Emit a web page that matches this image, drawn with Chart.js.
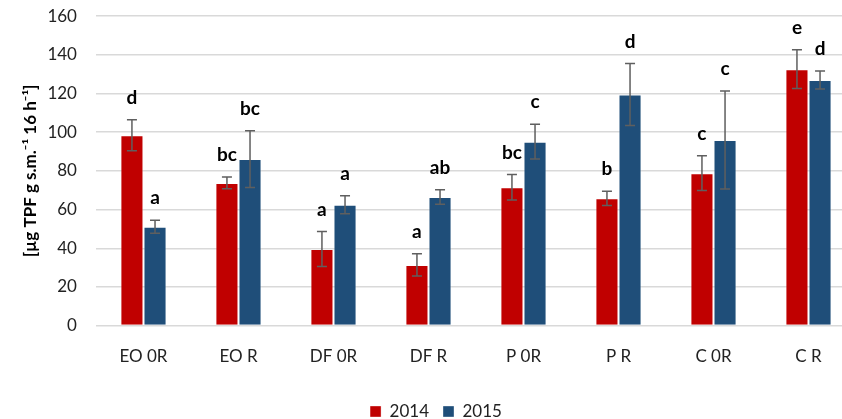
<!DOCTYPE html>
<html>
<head>
<meta charset="utf-8">
<script src="https://cdn.jsdelivr.net/npm/chart.js@4"></script>
<style>
  html, body { margin: 0; padding: 0; background: #fff; overflow: hidden; width: 842px; height: 419px; }
  #wrap { position: absolute; left: 0; top: -13px; width: 856px; height: 443px; }
</style>
</head>
<body>
<div id="wrap"><canvas id="c"></canvas></div>
<script>
// Dehydrogenase activity per treatment, two seasons
const categories = ['EO 0R', 'EO R', 'DF 0R', 'DF R', 'P 0R', 'P R', 'C 0R', 'C R'];
const values2014 = [98.4, 73.8, 39.6, 31.4, 71.6, 65.8, 78.8, 132.6];
const values2015 = [51.1, 86.1, 62.5, 66.5, 95.1, 119.5, 96.0, 127.0];
const errors2014 = [8.0, 3.0, 9.0, 5.7, 6.6, 3.7, 9.0, 10.0];
const errors2015 = [3.4, 14.7, 4.6, 3.7, 9.0, 16.0, 25.3, 4.6];
const letters2014 = ['d', 'bc', 'a', 'a', 'bc', 'b', 'c', 'e'];
const letters2015 = ['a', 'bc', 'a', 'ab', 'c', 'd', 'c', 'd'];
const yTicks = [0, 20, 40, 60, 80, 100, 120, 140, 160];

const errs = [errors2014, errors2015];
const letters = [letters2014, letters2015];

// Error bars with caps plus significance letters above each bar
const errorAndLetters = {
  id: 'errorAndLetters',
  afterDatasetsDraw(chart) {
    const ctx = chart.ctx;
    const y = chart.scales.y;
    chart.data.datasets.forEach((ds, di) => {
      const meta = chart.getDatasetMeta(di);
      meta.data.forEach((bar, i) => {
        const v = ds.data[i];
        const e = errs[di][i];
        const yTop = y.getPixelForValue(v + e);
        const yBot = y.getPixelForValue(v - e);
        const x = bar.x;
        ctx.save();
        ctx.strokeStyle = '#5f5f5f';
        ctx.lineWidth = 1.5;
        ctx.beginPath();
        ctx.moveTo(x, yTop); ctx.lineTo(x, yBot);
        ctx.moveTo(x - 5, yTop); ctx.lineTo(x + 5, yTop);
        ctx.moveTo(x - 5, yBot); ctx.lineTo(x + 5, yBot);
        ctx.stroke();
        ctx.fillStyle = '#000';
        ctx.font = 'bold 19px Lato, "Liberation Sans", sans-serif';
        ctx.textAlign = 'center';
        ctx.textBaseline = 'middle';
        ctx.fillText(letters[di][i], x, yTop - 22);
        ctx.restore();
      });
    });
  }
};

new Chart(document.getElementById('c'), {
  type: 'bar',
  data: {
    labels: categories,
    datasets: [
      { label: '2014', data: values2014, backgroundColor: '#C00000', borderColor: 'rgba(255,255,255,0.35)', borderWidth: 1,
        categoryPercentage: 0.486, barPercentage: 1.0 },
      { label: '2015', data: values2015, backgroundColor: '#1F4E79', borderColor: 'rgba(255,255,255,0.35)', borderWidth: 1,
        categoryPercentage: 0.486, barPercentage: 1.0 }
    ]
  },
  options: {
    responsive: true,
    maintainAspectRatio: false,
    animation: false,
    layout: { padding: { top: 0, right: 0, bottom: 0, left: 16 } },
    plugins: {
      legend: {
        position: 'bottom',
        labels: {
          boxWidth: 11, boxHeight: 11, padding: 14,
          color: '#222',
          font: { family: 'Lato, "Liberation Sans", sans-serif', size: 17 }
        }
      },
      tooltip: { enabled: false }
    },
    scales: {
      x: {
        grid: { display: false },
        border: { display: false },
        afterFit(scale) { scale.height += 9; },
        ticks: {
          color: '#222', padding: 13,
          font: { family: 'Lato, "Liberation Sans", sans-serif', size: 17 }
        }
      },
      y: {
        min: 0, max: 160,
        afterBuildTicks(scale) { scale.ticks = yTicks.map(v => ({ value: v })); },
        grid: { color: '#d9d9d9', lineWidth: 1.5, drawTicks: false },
        border: { display: false },
        ticks: {
          color: '#222', padding: 19,
          font: { family: 'Lato, "Liberation Sans", sans-serif', size: 17 }
        },
        title: {
          display: true,
          text: '[µg TPF g s.m.⁻¹ 16 h⁻¹]',
          color: '#000',
          padding: { top: 4, bottom: -12 },
          font: { family: 'Lato, "Liberation Sans", sans-serif', size: 17, weight: 'bold' }
        }
      }
    }
  },
  plugins: [errorAndLetters]
});
</script>
</body>
</html>
